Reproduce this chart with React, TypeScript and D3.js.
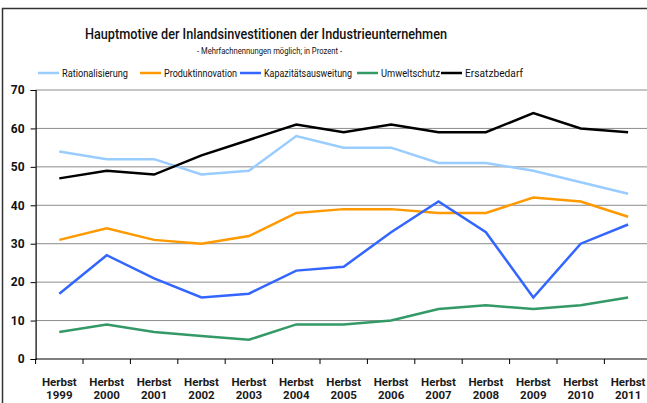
import React, { useEffect, useRef } from "react";
import * as d3 from "d3";

const years = ["1999", "2000", "2001", "2002", "2003", "2004", "2005", "2006", "2007", "2008", "2009", "2010", "2011"];
const rationalisierung = [54, 52, 52, 48, 49, 58, 55, 55, 51, 51, 49, 46, 43];
const produktinnovation = [31, 34, 31, 30, 32, 38, 39, 39, 38, 38, 42, 41, 37];
const kapazitaet = [17, 27, 21, 16, 17, 23, 24, 33, 41, 33, 16, 30, 35];
const umweltschutz = [7, 9, 7, 6, 5, 9, 9, 10, 13, 14, 13, 14, 16];
const ersatzbedarf = [47, 49, 48, 53, 57, 61, 59, 61, 59, 59, 64, 60, 59];
const yTicks = [0, 10, 20, 30, 40, 50, 60, 70];

const series = [
  { name: "Rationalisierung", values: rationalisierung, color: "#99ccff" },
  { name: "Produktinnovation", values: produktinnovation, color: "#ff9900" },
  { name: "Kapazitätsausweitung", values: kapazitaet, color: "#3366ff" },
  { name: "Umweltschutz", values: umweltschutz, color: "#339966" },
  { name: "Ersatzbedarf", values: ersatzbedarf, color: "#000000" },
];

const font = "Roboto, 'Noto Sans', sans-serif";

function App() {
  const ref = useRef<SVGSVGElement>(null);

  useEffect(() => {
    const width = 647;
    const height = 403;
    const left = 35.6;
    const right = 651.8;
    const top = 90;
    const bottom = 359;

    const svg = d3.select(ref.current).attr("width", width).attr("height", height);
    svg.selectAll("*").remove();

    // outer frame
    svg.append("rect")
      .attr("x", 2.5).attr("y", 8.5)
      .attr("width", 660).attr("height", 420)
      .attr("fill", "white").attr("stroke", "#333").attr("stroke-width", 1.5);

    const x = d3.scaleBand().domain(years).range([left, right]);
    const y = d3.scaleLinear().domain([0, 70]).range([bottom, top]);

    // title
    svg.append("text")
      .attr("x", 85).attr("y", 39)
      .attr("textLength", 362).attr("lengthAdjust", "spacingAndGlyphs")
      .attr("font-family", font).attr("font-weight", "500").attr("font-size", 15)
      .attr("fill", "#111")
      .text("Hauptmotive der Inlandsinvestitionen der Industrieunternehmen");
    svg.append("text")
      .attr("x", 197).attr("y", 54)
      .attr("textLength", 145).attr("lengthAdjust", "spacingAndGlyphs")
      .attr("font-family", font).attr("font-size", 9)
      .attr("fill", "#111")
      .text("- Mehrfachnennungen möglich; in Prozent -");

    // legend
    const legendX = [38, 140, 240, 357, 441];
    const legendW = [66, 73, 88, 59, 58];
    series.forEach((s, i) => {
      const lx = legendX[i];
      svg.append("line")
        .attr("x1", lx).attr("x2", lx + 21).attr("y1", 73).attr("y2", 73)
        .attr("stroke", s.color).attr("stroke-width", 2.5);
      svg.append("text")
        .attr("x", lx + 24).attr("y", 77)
        .attr("textLength", legendW[i]).attr("lengthAdjust", "spacingAndGlyphs")
        .attr("font-family", font).attr("font-size", 11.5)
        .attr("fill", "#111")
        .text(s.name);
    });

    // grid
    svg.append("g")
      .selectAll("line")
      .data(yTicks.filter((t) => t > 0))
      .join("line")
      .attr("x1", left).attr("x2", right)
      .attr("y1", (d) => y(d)).attr("y2", (d) => y(d))
      .attr("stroke", "#8c8c8c").attr("stroke-width", 1);

    // y axis
    const yAxis = svg.append("g")
      .attr("transform", `translate(${left},0)`)
      .call(d3.axisLeft(y).tickValues(yTicks).tickSize(5).tickPadding(6));
    yAxis.select(".domain").attr("stroke", "#000").attr("stroke-width", 1.2);
    yAxis.selectAll("text")
      .attr("font-family", font).attr("font-weight", "bold").attr("font-size", 12).attr("fill", "#111");

    // x axis
    const xAxis = svg.append("g")
      .attr("transform", `translate(0,${bottom})`);
    xAxis.append("line")
      .attr("x1", left).attr("x2", right)
      .attr("stroke", "#000").attr("stroke-width", 1.2);
    xAxis.selectAll("line.tick")
      .data(years)
      .join("line")
      .attr("class", "tick")
      .attr("x1", (d) => x(d)!).attr("x2", (d) => x(d)!)
      .attr("y1", 0).attr("y2", 5)
      .attr("stroke", "#000");
    const lbl = xAxis.selectAll("text")
      .data(years)
      .join("text")
      .attr("x", (d) => x(d)! + x.bandwidth() / 2)
      .attr("text-anchor", "middle")
      .attr("font-family", font).attr("font-weight", "bold").attr("font-size", 11.5)
      .attr("fill", "#1a1a1a");
    lbl.append("tspan").attr("x", (d) => x(d)! + x.bandwidth() / 2).attr("y", 27).text("Herbst");
    lbl.append("tspan").attr("x", (d) => x(d)! + x.bandwidth() / 2).attr("y", 40).text((d) => d);

    // lines
    const line = d3.line<number>()
      .x((d, i) => x(years[i])! + x.bandwidth() / 2)
      .y((d) => y(d));

    series.forEach((s) => {
      svg.append("path")
        .datum(s.values)
        .attr("d", line)
        .attr("fill", "none")
        .attr("stroke", s.color)
        .attr("stroke-width", 2.5);
    });
  }, []);

  return (
    <div style={{ position: "absolute", left: 0, top: 0 }}>
      <svg ref={ref} style={{ display: "block" }}></svg>
    </div>
  );
}

export default App;
